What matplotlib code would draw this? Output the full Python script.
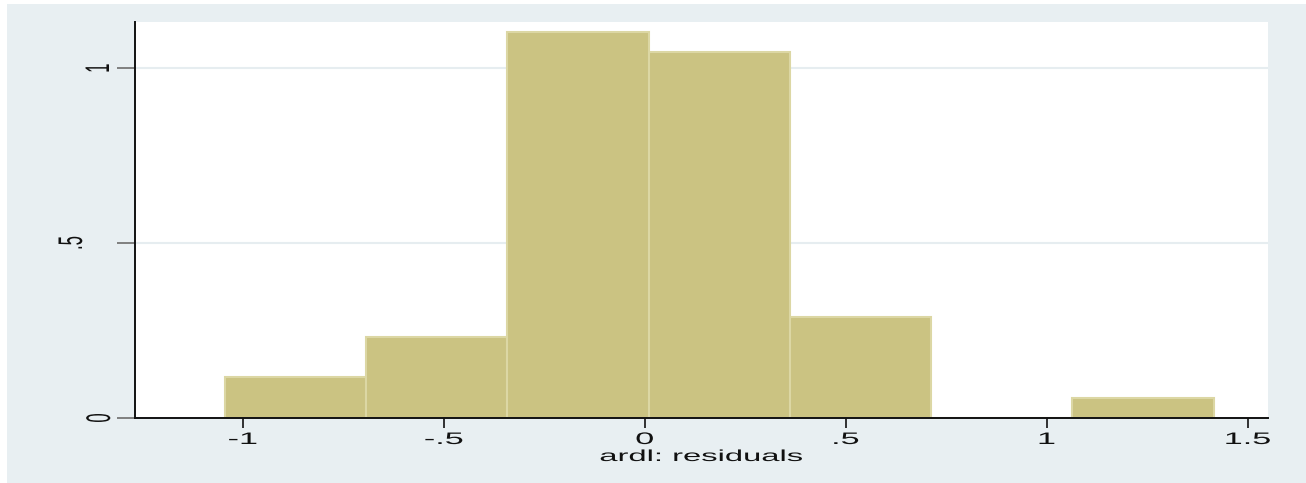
import matplotlib
matplotlib.use("Agg")
import matplotlib.pyplot as plt
from matplotlib.patches import Rectangle
from matplotlib.patheffects import AbstractPathEffect
from matplotlib.transforms import Affine2D, blended_transform_factory

# Histogram of ARDL residuals (density scale)
bin_edges = [-1.045, -0.6935, -0.342, 0.0095, 0.361, 0.7125, 1.064, 1.4155]
densities = [0.116, 0.232, 1.103, 1.045, 0.290, 0.0, 0.058]
x_ticks = [-1, -0.5, 0, 0.5, 1, 1.5]
x_tick_labels = ["-1", "-.5", "0", ".5", "1", "1.5"]
y_ticks = [0, 0.5, 1]
y_tick_labels = ["0", ".5", "1"]
x_label = "ardl: residuals"

BG = "#e8eff2"
FILL = "#cbc382"
EDGE = "#dcd7a4"
GRID = "#e6edf0"
STRETCH = 2.05  # wide, flattened lettering


class Stretch(AbstractPathEffect):
    """Scale a text path in its own glyph coordinates (about the ink x-centre and the baseline)."""

    def __init__(self, sx=1.0, sy=1.0):
        super().__init__()
        self.sx, self.sy = sx, sy

    def draw_path(self, renderer, gc, tpath, affine, rgbFace=None):
        ext = tpath.get_extents()
        cx = 0.5 * (ext.x0 + ext.x1)
        pre = Affine2D().translate(-cx, 0).scale(self.sx, self.sy).translate(cx, 0)
        renderer.draw_path(gc, tpath, pre + affine, rgbFace)


plt.rcParams["font.family"] = ["Liberation Sans", "DejaVu Sans"]

W, H = 1306, 483
fig = plt.figure(figsize=(W / 100, H / 100), dpi=100)
fig.patch.set_facecolor(BG)
# thin white margin at the top and left edges
fig.patches.append(Rectangle((0, 0), 7 / W, 1, transform=fig.transFigure,
                             facecolor="white", edgecolor="none", zorder=0))
fig.patches.append(Rectangle((0, 1 - 4 / H), 1, 4 / H, transform=fig.transFigure,
                             facecolor="white", edgecolor="none", zorder=0))

left, right, bottom, top = 135 / W, 1268 / W, (H - 418) / H, (H - 22) / H
ax = fig.add_axes([left, bottom, right - left, top - bottom])
ax.set_facecolor("white")

widths = [b - a for a, b in zip(bin_edges[:-1], bin_edges[1:])]
ax.bar(bin_edges[:-1], densities, width=widths, align="edge",
       color=FILL, edgecolor=EDGE, linewidth=1.5, zorder=2)

ax.set_xlim(-1.268, 1.5505)
ax.set_ylim(0, 1.132)

ax.set_yticks(y_ticks)
ax.set_xticks(x_ticks)
ax.tick_params(axis="y", length=13, width=1.3, color="#777777", labelleft=False)
ax.tick_params(axis="x", length=7, width=1.3, color="#222222", labelbottom=False)

for y in y_ticks[1:]:
    ax.axhline(y, color=GRID, linewidth=1.5, zorder=1)

for s in ["top", "right"]:
    ax.spines[s].set_visible(False)
for s in ["left", "bottom"]:
    ax.spines[s].set_linewidth(1.4)
    ax.spines[s].set_color("#111111")
    ax.spines[s].set_zorder(3)

wide = [Stretch(sx=STRETCH)]
tall = [Stretch(sy=STRETCH)]

# x tick labels (baseline a little below the ticks)
xt = blended_transform_factory(ax.transData, fig.transFigure)
for v, lab in zip(x_ticks, x_tick_labels):
    ax.text(v, (H - 444) / H, lab, transform=xt, ha="center", va="baseline",
            fontsize=12, color="#111111", path_effects=wide)

# y tick labels, rotated, baseline to the left of the ticks
yt = blended_transform_factory(fig.transFigure, ax.transData)
y_label_x = {"0": 110, ".5": 82, "1": 109}
for v, lab in zip(y_ticks, y_tick_labels):
    ax.text(y_label_x[lab] / W, v, lab, transform=yt, rotation=90,
            rotation_mode="anchor", ha="center", va="baseline",
            fontsize=12, color="#111111", path_effects=tall)

# axis title
ax.text(0.5, (H - 461) / H, x_label, transform=blended_transform_factory(ax.transAxes, fig.transFigure),
        ha="center", va="baseline", fontsize=11.5, color="#111111", path_effects=wide)

fig.savefig("out.png", dpi=100, facecolor=fig.get_facecolor())
